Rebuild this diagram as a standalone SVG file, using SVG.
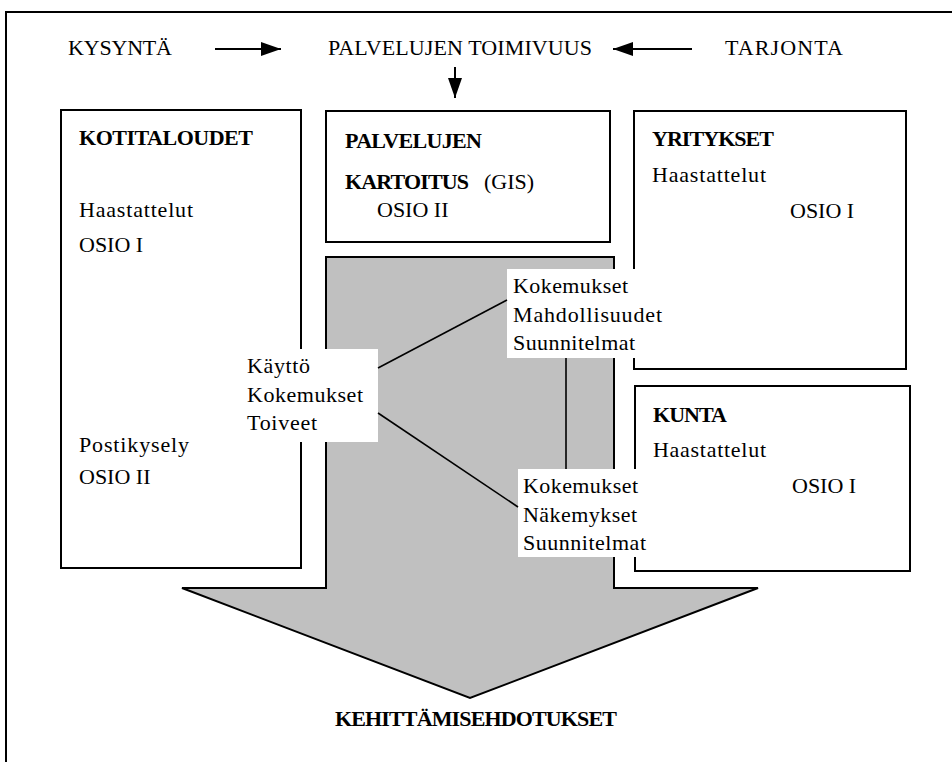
<svg xmlns="http://www.w3.org/2000/svg" width="952" height="762" viewBox="0 0 952 762">
<defs>
<style>
text{font-family:"Liberation Serif","Times New Roman",serif;font-size:22px;fill:#000}
.b{font-weight:bold}
.box{fill:#fff;stroke:#000;stroke-width:2}
.lbl{fill:#fff;stroke:none}
.ln{stroke:#000;stroke-width:1.6;fill:none}
.ar{stroke:#000;stroke-width:2;fill:none;marker-end:url(#ah)}
</style>
<marker id="ah" markerUnits="userSpaceOnUse" viewBox="0 0 20 14" markerWidth="20" markerHeight="14" refX="20" refY="7" orient="auto">
<path d="M0,0 L20,7 L0,14 z" fill="#000"/>
</marker>
</defs>
<rect width="952" height="762" fill="#fff"/>
<path d="M6,770 L6,12 L960,12" fill="none" stroke="#000" stroke-width="2"/>

<g id="top">
<text x="68" y="55" textLength="104">KYSYNTÄ</text>
<text x="328" y="55" textLength="264">PALVELUJEN TOIMIVUUS</text>
<text x="725" y="55" textLength="118">TARJONTA</text>
</g>

<g id="kotitaloudet">
<rect class="box" x="61" y="110" width="240" height="458"/>
<text class="b" x="79" y="145" textLength="174">KOTITALOUDET</text>
<text x="79" y="217" textLength="114">Haastattelut</text>
<text x="79" y="252">OSIO I</text>
<text x="79" y="452" textLength="110">Postikysely</text>
<text x="79" y="484">OSIO II</text>
</g>

<g id="kartoitus">
<rect class="box" x="326" y="111" width="284" height="131"/>
<text class="b" x="345" y="148" textLength="137">PALVELUJEN</text>
<text class="b" x="345" y="189" textLength="124">KARTOITUS</text>
<text x="484" y="189">(GIS)</text>
<text x="377" y="217">OSIO II</text>
</g>

<g id="yritykset">
<rect class="box" x="634" y="111" width="272" height="258"/>
<text class="b" x="652" y="146" textLength="122">YRITYKSET</text>
<text x="652" y="182" textLength="114">Haastattelut</text>
<text x="790" y="218">OSIO I</text>
</g>

<g id="kunta">
<rect class="box" x="635" y="386" width="275" height="185"/>
<text class="b" x="653" y="422" textLength="74">KUNTA</text>
<text x="653" y="457" textLength="113">Haastattelut</text>
<text x="792" y="493">OSIO I</text>
</g>

<g id="kehittamisehdotukset">
<polygon points="326,257 614,257 614,588 758,588 470,698 182,588 326,588" fill="#c0c0c0" stroke="#000" stroke-width="2" stroke-linejoin="miter"/>
<text class="b" x="335" y="726" textLength="282">KEHITTÄMISEHDOTUKSET</text>
</g>

<g id="kaytto">
<rect class="lbl" x="239" y="349" width="139" height="93"/>
<text x="247" y="373" textLength="63">Käyttö</text>
<text x="247" y="402" textLength="116">Kokemukset</text>
<text x="247" y="430" textLength="70">Toiveet</text>
</g>

<g id="yritys-label">
<rect class="lbl" x="507" y="269" width="157" height="89"/>
<text x="513" y="293" textLength="115">Kokemukset</text>
<text x="513" y="322" textLength="149">Mahdollisuudet</text>
<text x="513" y="350" textLength="122">Suunnitelmat</text>
</g>

<g id="kunta-label">
<rect class="lbl" x="518" y="469" width="130" height="88"/>
<text x="523" y="493" textLength="115">Kokemukset</text>
<text x="523" y="522" textLength="114">Näkemykset</text>
<text x="523" y="550" textLength="123">Suunnitelmat</text>
</g>

<g id="connectors">
<line class="ar" x1="215" y1="49" x2="281" y2="49"/>
<line class="ar" x1="692" y1="49" x2="613" y2="49"/>
<line class="ar" x1="455" y1="67" x2="455" y2="98"/>
<line class="ln" x1="378" y1="368" x2="507" y2="300"/>
<line class="ln" x1="378" y1="413" x2="518" y2="507"/>
<line class="ln" x1="566" y1="358" x2="566" y2="469"/>
</g>
</svg>
